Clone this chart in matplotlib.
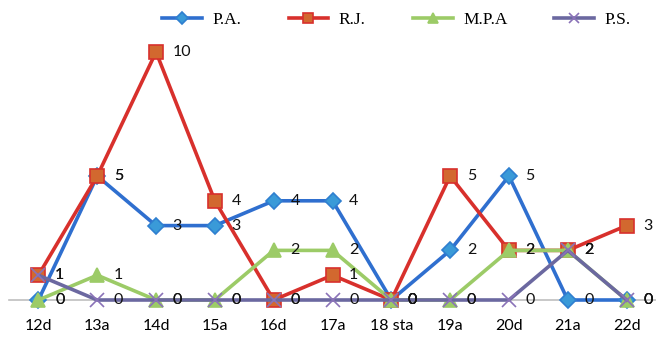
import matplotlib
matplotlib.use("Agg")
import matplotlib.pyplot as plt

categories = ["12d", "13a", "14d", "15a", "16d", "17a", "18 sta", "19a", "20d", "21a", "22d"]
series_names = ["P.A.", "R.J.", "M.P.A", "P.S."]
pa = [0, 5, 3, 3, 4, 4, 0, 2, 5, 0, 0]
rj = [1, 5, 10, 4, 0, 1, 0, 5, 2, 2, 3]
mpa = [0, 1, 0, 0, 2, 2, 0, 0, 2, 2, 0]
ps = [1, 0, 0, 0, 0, 0, 0, 0, 0, 2, 0]

styles = [
    dict(color="#2F6FCF", marker="D", mfc="#3A9AD8", mec="#2F7FD0", ms=8.5),
    dict(color="#D8302C", marker="s", mfc="#D2682F", mec="#D8302C", ms=10.5),
    dict(color="#9CCB67", marker="^", mfc="#9CCB67", mec="#9CCB67", ms=10),
    dict(color="#6B68A0", marker="x", mfc="#8A72B8", mec="#8A72B8", ms=10),
]

fig = plt.figure(figsize=(6.56, 3.38), dpi=100)
ax = fig.add_axes([9 / 656, 38 / 338, 647 / 656, 297.6 / 338])
x = list(range(len(categories)))

for name, vals, st in zip(series_names, [pa, rj, mpa, ps], styles):
    ax.plot(x, vals, color=st["color"], lw=2.6, marker=st["marker"],
            markerfacecolor=st["mfc"], markeredgecolor=st["mec"],
            markersize=st["ms"], markeredgewidth=1.2, label=name,
            clip_on=False, zorder=3)
    for xi, v in zip(x, vals):
        ax.annotate(str(v), (xi, v), xytext=(12, 0), textcoords="offset points",
                    ha="left", va="center", fontsize=11.5, family="Lato",
                    color="#111111", zorder=4)

ax.set_xlim(-0.5, 10.5)
ax.set_ylim(0, 12)
ax.set_xticks(x)
ax.set_xticklabels(categories, fontsize=11.5, family="Lato")
ax.set_yticks([])
for s in ["top", "right", "left"]:
    ax.spines[s].set_visible(False)
ax.spines["bottom"].set_color("#BFBFBF")
ax.spines["bottom"].set_linewidth(1.2)
ax.tick_params(axis="x", length=0, pad=14)

leg = ax.legend(loc="center", bbox_to_anchor=(0.599, 0.941), ncol=4,
                frameon=False, prop={"family": "Liberation Serif", "size": 12.5},
                handlelength=2.3, columnspacing=2.7, handletextpad=0.6,
                markerscale=0.75, borderpad=0.2)

fig.savefig("out.png", dpi=100)
